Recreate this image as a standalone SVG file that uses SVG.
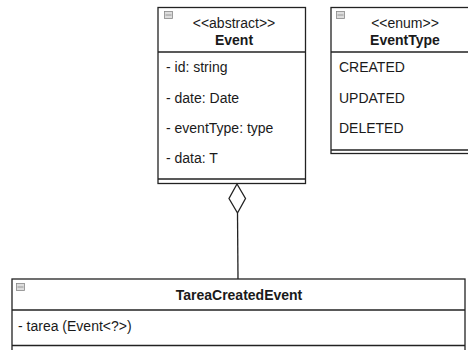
<svg xmlns="http://www.w3.org/2000/svg" width="468" height="350" viewBox="0 0 468 350">
<style>
.box{fill:#fff;stroke:#222;stroke-width:1.3}
.ln{stroke:#222;stroke-width:1.3;fill:none}
.t{font-family:"Liberation Sans",Arial,sans-serif;font-size:14px;fill:#1a1a1a}
.b{font-weight:bold}
.m{text-anchor:middle}
.ic{fill:#ddd;stroke:#888;stroke-width:0.8}
</style>
<rect width="468" height="350" fill="#fff"/>
<g id="Event">
<rect class="box" x="158" y="7.5" width="147.5" height="176"/>
<line class="ln" x1="158" y1="52" x2="305.5" y2="52"/>
<line class="ln" x1="158" y1="179" x2="305.5" y2="179"/>
<rect class="ic" x="164.5" y="11.5" width="8" height="7"/>
<line x1="165.5" y1="15" x2="171.5" y2="15" stroke="#888" stroke-width="0.8"/>
<text class="t m" x="234" y="28">&lt;&lt;abstract&gt;&gt;</text>
<text class="t b m" x="234" y="45">Event</text>
<text class="t" x="166" y="72">- id: string</text>
<text class="t" x="166" y="103">- date: Date</text>
<text class="t" x="166" y="133">- eventType: type</text>
<text class="t" x="166" y="163">- data: T</text>
</g>
<g id="EventType">
<rect class="box" x="331" y="7.5" width="148" height="146"/>
<line class="ln" x1="331" y1="52" x2="479" y2="52"/>
<line class="ln" x1="331" y1="150" x2="479" y2="150"/>
<rect class="ic" x="336.5" y="11.5" width="8" height="7"/>
<line x1="337.5" y1="15" x2="343.5" y2="15" stroke="#888" stroke-width="0.8"/>
<text class="t m" x="405" y="28">&lt;&lt;enum&gt;&gt;</text>
<text class="t b m" x="405" y="45">EventType</text>
<text class="t" x="339" y="72">CREATED</text>
<text class="t" x="339" y="103">UPDATED</text>
<text class="t" x="339" y="133">DELETED</text>
</g>
<g id="TareaCreatedEvent">
<rect class="box" x="12" y="279" width="453" height="80"/>
<line class="ln" x1="12" y1="310" x2="465" y2="310"/>
<line class="ln" x1="12" y1="345.5" x2="465" y2="345.5"/>
<rect class="ic" x="16.5" y="283.5" width="8" height="7"/>
<line x1="17.5" y1="287" x2="23.5" y2="287" stroke="#888" stroke-width="0.8"/>
<text class="t b m" x="239" y="300">TareaCreatedEvent</text>
<text class="t" x="18" y="331">- tarea (Event&lt;?&gt;)</text>
</g>
<g id="connectors">
<line class="ln" x1="237.5" y1="213" x2="238" y2="279"/>
<path class="ln" d="M237 184 L245.5 198.5 L237.5 213 L229 198.5 Z" fill="#fff"/>
</g>
</svg>
